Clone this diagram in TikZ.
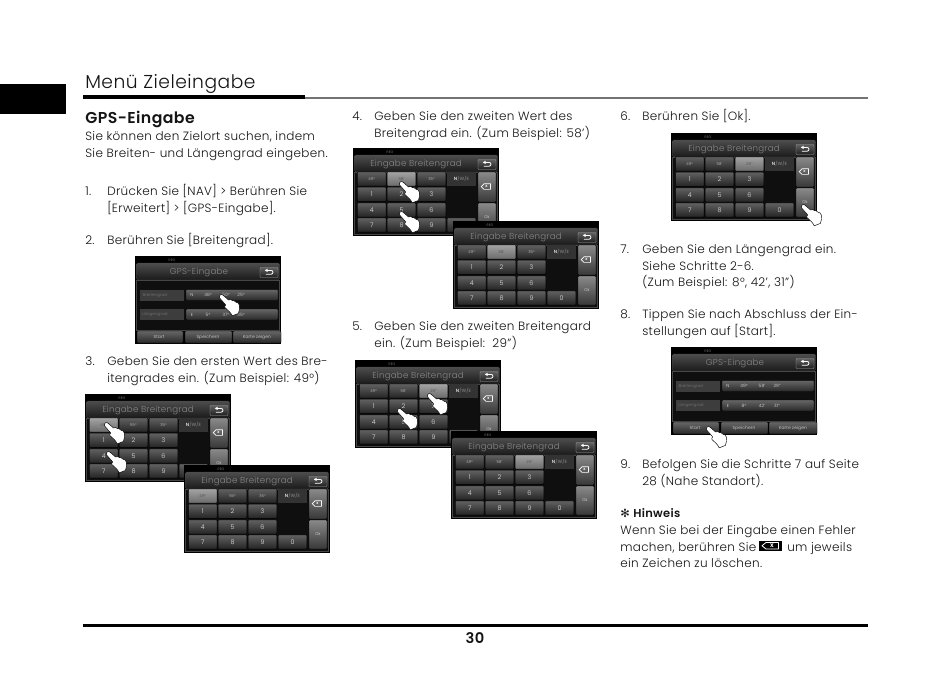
\documentclass[tikz,border=0pt]{standalone}
\usepackage{fontspec}
\setmainfont{Poppins Light}[BoldFont={Poppins SemiBold},LetterSpace=2.7]
\newfontfamily\symfont{DejaVu Sans}
\definecolor{ink}{gray}{0.08}
\tikzset{
  txt/.style={anchor=base west,inner sep=0pt,text=ink,font=\fontsize{9}{10}\selectfont},
  keybtn/.style={draw=black,line width=0.3pt,rounded corners=0.6pt,top color=black!62,bottom color=black!86,text=black!10,font=\fontsize{4.8}{5}\selectfont,inner sep=0pt},
  keycell/.style={keybtn,minimum width=21.6pt,minimum height=10.6pt},
  valcell/.style={keycell,text=black!22,font=\fontsize{2.9}{3}\selectfont},
  valcellhi/.style={valcell,top color=black!36,bottom color=black!58,text=black!72},
  sidebtn/.style={keybtn,top color=black!46,bottom color=black!78},
  rowbtn/.style={keybtn,top color=black!60,bottom color=black!84},
  handshape/.style={draw=black,line width=0.35pt,fill=white,line join=round},
  tinytxt/.style={text=black!45,font=\fontsize{2.6}{3}\selectfont,inner sep=0pt},
  screentitle/.style={text=black!47,inner sep=0pt,font=\fontsize{6.5}{8}\selectfont},
  gpslabel/.style={text=black!52,inner sep=0pt,font=\fontsize{3}{4}\selectfont},
  gpsval/.style={text=black!12,inner sep=0pt,font=\fontsize{3.3}{4}\selectfont}
}
\newcommand{\backbtn}{%
  \path[keybtn,draw=black!35,top color=black!62,bottom color=black!88] (125,11.5) rectangle (143,21.5);
  \draw[white,line width=0.6pt] (132,14.4) -- (136,14.4) .. controls (138.6,14.4) and (138.6,18.2) .. (136,18.2) -- (130.8,18.2);
  \fill[white] (129.8,14.4) -- (132.6,12.7) -- (132.6,16.1) -- cycle;
}
\newcommand{\pointer}[2]{%
  \path[handshape,shift={(#1,#2)}]
    (0,0) .. controls (1,-0.9) and (2.2,-0.5) .. (3,0.1) -- (8.6,5)
    .. controls (10,4.2) and (11.4,4.4) .. (12.4,5.6)
    .. controls (13.8,5.2) and (15,6) .. (15.6,7)
    .. controls (17.4,7) and (19,8.4) .. (19.4,10.2)
    .. controls (20,13) and (19.4,15) .. (18.4,18.4)
    -- (12.2,20.8) .. controls (10.8,17.4) and (7.6,15) .. (5,12.6)
    .. controls (4.4,11.4) and (5,10.4) .. (5.8,10)
    -- (-0.7,2.6) .. controls (-1.2,1.6) and (-0.8,0.6) .. (0,0) -- cycle;}
\newcommand{\screenpanel}[1]{%
  \path[draw=black!72,line width=0.3pt,rounded corners=1pt,top color=black!70,bottom color=black!90] (1.5,7) rectangle (144.5,24);
  \path[fill=black!94,draw=black!72,line width=0.3pt] (1.5,24) rectangle (144.5,#1);}
\newcommand{\keypad}[6]{%
 \begin{scope}[shift={(#1,#2)}]
  \fill[black] (0,0) rectangle (146,88);
  \node[tinytxt] at (37,3.8) {REG};
  \screenpanel{86}
  \node[screentitle] at (63,16.6) {Eingabe Breitengrad};
  \backbtn
  \foreach \cc/\xm/\vv in {1/18.75/#4,2/48.5/#5,3/78.5/#6}{
    \ifnum\cc=#3
      \node[valcellhi] at (\xm,31) {\vv};
    \else
      \node[valcell] at (\xm,31) {\vv};
    \fi
  }
  \fill[black!80] (94,24) rectangle (123,38);
  \node[inner sep=0pt,font=\bfseries\fontsize{3.4}{4}\selectfont,text=black!15] at (108.5,31) {N\textcolor{black!55}{/W/E}};
  \foreach \yy/\r in {46.3/1,62/2,77/3}{
    \foreach \cc/\xm in {1/18.75,2/48.5,3/78.5}{
      \pgfmathtruncatemacro{\n}{(\r-1)*3+\cc}
      \node[keycell] at (\xm,\yy) {\n};
    }
  }
  \node[keycell] at (108.5,77) {0};
  \path[sidebtn] (125,24) rectangle (143,54);
  \path[sidebtn] (125,55) rectangle (143,84);
  \draw[white,line width=0.5pt,line join=round] (137.5,35.8) -- (131,35.8) -- (128.2,38.6) -- (131,41.4) -- (137.5,41.4) -- cycle;
  \node[inner sep=0pt,text=white,font=\bfseries\fontsize{3}{3}\selectfont] at (133.5,38.4) {x};
  \node[inner sep=0pt,text=black!10,font=\fontsize{3}{3}\selectfont] at (134,69.5) {Ok};
 \end{scope}}
\newcommand{\gpsscreen}[8]{%
 \begin{scope}[shift={(#1,#2)}]
  \fill[black] (0,0) rectangle (146,87.5);
  \node[tinytxt] at (37,3.8) {REG};
  \screenpanel{74}
  \node[screentitle] at (64,16.2) {GPS-Eingabe};
  \backbtn
  \fill[black!76] (5,34) rectangle (49,45);
  \fill[black!76] (5,53) rectangle (49,64);
  \node[gpslabel] at (20,39.5) {Breitengrad};
  \node[gpslabel] at (20,58.5) {Längengrad};
  \path[rowbtn] (51,33.5) rectangle (143,44.5);
  \path[rowbtn] (51,53) rectangle (143,64);
  \foreach \tx/\xx in {N/57,#3/73,#4/91,#5/106}{\node[gpsval] at (\xx,39) {\tx};}
  \foreach \tx/\xx in {E/57,#6/73,#7/91,#8/106}{\node[gpsval] at (\xx,58.5) {\tx};}
  \path[rowbtn] (2,75) rectangle (48,87);
  \path[rowbtn] (50,75) rectangle (97,87);
  \path[rowbtn] (98,75) rectangle (146,87);
  \foreach \tx/\xx in {Start/24,Speichern/73,Karte zeigen/122}{\node[gpsval] at (\xx,81) {\tx};}
 \end{scope}}
\begin{document}
\begin{tikzpicture}[x=0.75pt,y=-0.75pt]
\useasboundingbox (0,0) rectangle (950,683);
\fill[white] (0,0) rectangle (950,683);
% header
\fill[black] (0,83.5) rectangle (66,113.5);
\node[txt,font=\fontsize{14}{16}\selectfont] (title) at (85,88.5) {Menü Zieleingabe};
\fill[black!55] (83,97.2) rectangle (868,98.6);
\fill[black] (83,95.2) rectangle (305,98.6);
% column 1
\node[txt,font=\bfseries\fontsize{11.8}{12}\selectfont] (head) at (85,123) {GPS-Eingabe};
\node[txt] (t1) at (85,140) {Sie können den Zielort suchen, indem};
\node[txt] (t2) at (85,157) {Sie Breiten- und Längengrad eingeben.};
\node[txt] (n1) at (85,195) {1.};
\node[txt] (t3) at (107,195) {Drücken Sie [NAV] > Berühren Sie};
\node[txt] (t4) at (107,212) {[Erweitert] > [GPS-Eingabe].};
\node[txt] (n2) at (85,244) {2.};
\node[txt] (t5) at (107,244) {Berühren Sie [Breitengrad].};
\gpsscreen{135}{256}{46°}{50°}{25°}{5°}{37°}{35°}
\pointer{220}{295}
\node[txt] (n3) at (85,365) {3.};
\node[txt] (t6) at (107,365) {Geben Sie den ersten Wert des Bre-};
\node[txt] (t7) at (107,382) {itengrades ein. (Zum Beispiel: 49°)};
\keypad{85}{394}{1}{49°}{55°}{35°}
\pointer{105}{423}
\pointer{107}{452}
\keypad{184}{465}{1}{49°}{55°}{35°}
% column 2
\node[txt] (n4) at (352,120) {4.};
\node[txt] (t8) at (374,120) {Geben Sie den zweiten Wert des};
\node[txt] (t9) at (374,137) {Breitengrad ein. (Zum Beispiel: 58')};
\keypad{353}{148}{2}{49°}{58'}{35°}
\pointer{400}{182}
\pointer{400}{212}
\keypad{453}{221}{2}{49°}{58'}{35°}
\node[txt] (n5) at (352,330) {5.};
\node[txt] (t10) at (374,330) {Geben Sie den zweiten Breitengard};
\node[txt] (t11) at (374,347) {ein. (Zum Beispiel:\ \ 29")};
\keypad{355}{360}{3}{49°}{58'}{29"}
\pointer{428}{394}
\pointer{398}{409}
\keypad{451}{431}{3}{49°}{58'}{29"}
% column 3
\node[txt] (n6) at (620,120) {6.};
\node[txt] (t12) at (642,120) {Berühren Sie [Ok].};
\keypad{671}{133}{3}{49°}{58'}{29"}
\pointer{802}{205}
\node[txt] (n7) at (620,253) {7.};
\node[txt] (t13) at (642,253) {Geben Sie den Längengrad ein.};
\node[txt] (t14) at (642,270) {Siehe Schritte 2-6.};
\node[txt] (t15) at (642,286) {(Zum Beispiel: 8°, 42', 31")};
\node[txt] (n8) at (620,318) {8.};
\node[txt] (t16) at (642,318) {Tippen Sie nach Abschluss der Ein-};
\node[txt] (t17) at (642,335) {stellungen auf [Start].};
\gpsscreen{671}{347}{49°}{58'}{29"}{8°}{42'}{31"}
\pointer{707}{427}
\node[txt] (n9) at (620,468) {9.};
\node[txt] (t18) at (642,468) {Befolgen Sie die Schritte 7 auf Seite};
\node[txt] (t19) at (642,485) {28 (Nahe Standort).};
\node[txt,font=\symfont\bfseries\fontsize{8.5}{10}\selectfont] (star) at (620,517) {✻};
\node[txt,font=\bfseries\fontsize{8.6}{10}\selectfont] (h) at (633,517) {Hinweis};
\node[txt] (t20) at (620,534) {Wenn Sie bei der Eingabe einen Fehler};
\node[txt] (t21) at (620,551) {machen, berühren Sie};
\node[txt] (t22) at (787,551) {um jeweils};
\fill[black] (759,541) rectangle (782,550.5);
\draw[white,line width=0.6pt,line join=round] (778.5,542.5) -- (766,542.5) -- (762,545.7) -- (766,549) -- (778.5,549) -- cycle;
\node[inner sep=0pt,text=white,font=\bfseries\fontsize{5}{5}\selectfont] (x) at (772,545.3) {x};
\node[txt] (t23) at (620,567) {ein Zeichen zu löschen.};
% footer
\fill[black] (83,624) rectangle (868,626.5);
\node[anchor=base,inner sep=0pt,text=ink,font=\bfseries\fontsize{11}{12}\selectfont] (pg) at (475,643) {30};
\end{tikzpicture}
\end{document}
